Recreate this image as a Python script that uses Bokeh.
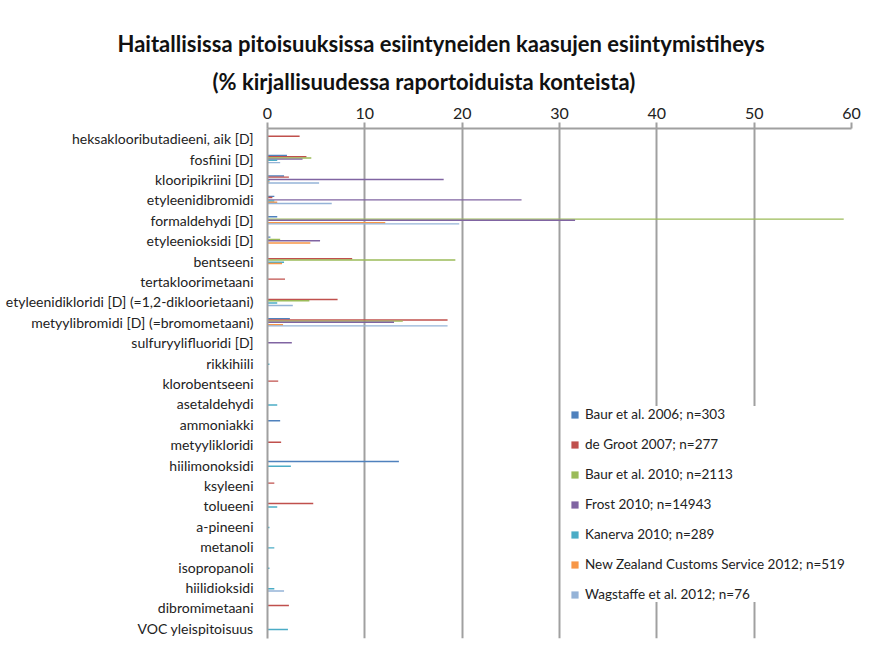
from bokeh.plotting import figure
from bokeh.models import FactorRange, ColumnDataSource, Legend, LegendItem, FixedTicker, Title
from bokeh.transform import dodge
from bokeh.embed import file_html
from bokeh.resources import INLINE

categories = [
    "heksaklooributadieeni, aik [D]", "fosfiini [D]", "klooripikriini [D]",
    "etyleenidibromidi", "formaldehydi [D]", "etyleenioksidi [D]", "bentseeni",
    "tertakloorimetaani", "etyleenidikloridi [D] (=1,2-dikloorietaani)",
    "metyylibromidi [D] (=bromometaani)", "sulfuryylifluoridi [D]", "rikkihiili",
    "klorobentseeni", "asetaldehydi", "ammoniakki", "metyylikloridi",
    "hiilimonoksidi", "ksyleeni", "tolueeni", "a-pineeni", "metanoli",
    "isopropanoli", "hiilidioksidi", "dibromimetaani", "VOC yleispitoisuus",
]

series_names = [
    "Baur et al. 2006; n=303", "de Groot 2007; n=277", "Baur et al. 2010; n=2113",
    "Frost 2010; n=14943", "Kanerva 2010; n=289",
    "New Zealand Customs Service 2012; n=519", "Wagstaffe et al. 2012; n=76",
]

baur_2006 = [0, 2.0, 1.7, 0.7, 1.0, 0.3, 0, 0, 0, 2.3, 0, 0, 0, 0, 1.3, 0, 13.5, 0, 0, 0, 0, 0, 0, 0, 0]
de_groot_2007 = [3.3, 4.0, 2.2, 0.5, 0, 0, 8.7, 1.8, 7.2, 18.5, 0, 0, 1.1, 0, 0, 1.4, 0, 0.7, 4.7, 0, 0, 0, 0, 2.2, 0]
baur_2010 = [0, 4.5, 0, 0, 59.2, 1.3, 19.3, 0, 4.3, 13.9, 0, 0, 0, 0, 0, 0, 0, 0, 0, 0, 0, 0, 0, 0, 0]
frost_2010 = [0, 3.6, 18.1, 26.1, 31.6, 5.4, 0, 0, 0, 13.0, 2.5, 0, 0, 0, 0, 0, 0, 0, 0, 0, 0, 0, 0, 0, 0]
kanerva_2010 = [0, 1.0, 0.2, 0.7, 0, 0, 1.7, 0, 1.0, 0, 0, 0.2, 0, 1.0, 0, 0, 2.4, 0, 1.0, 0.2, 0.7, 0.2, 0.7, 0, 2.1]
nz_customs_2012 = [0, 0, 0.2, 1.0, 12.1, 4.4, 1.5, 0, 0, 1.6, 0, 0, 0, 0, 0, 0, 0, 0, 0, 0, 0, 0, 0, 0, 0]
wagstaffe_2012 = [0, 1.3, 5.3, 6.6, 19.7, 0, 0, 0, 2.6, 18.5, 0, 0, 0, 0, 0, 0, 0, 0, 0, 0, 0, 0, 1.7, 0, 0]

x_ticks = [0, 10, 20, 30, 40, 50, 60]

title_line1 = "Haitallisissa pitoisuuksissa esiintyneiden kaasujen esiintymistiheys"
title_line2 = "(% kirjallisuudessa raportoiduista konteista)"

colors = ["#4F81BD", "#C0504D", "#9BBB59", "#8064A2", "#4BACC6", "#F79646", "#95B3D7"]

src = ColumnDataSource(dict(cat=categories, s0=baur_2006, s1=de_groot_2007, s2=baur_2010,
                            s3=frost_2010, s4=kanerva_2010, s5=nz_customs_2012, s6=wagstaffe_2012))

p = figure(width=861, height=639, output_backend="svg", toolbar_location=None,
           y_range=FactorRange(factors=categories[::-1], range_padding=0),
           x_range=(0, 60), x_axis_location="above",
           min_border_left=267, min_border_right=10, min_border_bottom=1,
           min_border_top=128)

# left edges of the two title lines in the reference: x~117 and x~213 (frame left at 267)
for txt, so, off in ((title_line2, 19, -55), (title_line1, 0, -150)):
    t = Title(text=txt, align="left", offset=off, text_font="Lato", text_font_size="22px",
              text_font_style="bold", text_color="#111111", standoff=so)
    p.add_layout(t, "above")

step = 0.058
renderers = []
for i, col in enumerate(colors):
    r = p.hbar(y=dodge("cat", (3 - i) * step, range=p.y_range), right="s%d" % i, left=0,
               height=0.07, source=src, fill_color=col, line_color=None)
    renderers.append(r)

p.xaxis.ticker = FixedTicker(ticks=x_ticks)
p.xaxis.major_label_text_font = "Lato"
p.xaxis.major_label_text_font_size = "16px"
p.xaxis.major_label_text_color = "#222222"
p.xaxis.major_label_standoff = 4
p.xaxis.axis_line_color = "#a0a0a0"
p.xaxis.axis_line_width = 2
p.xaxis.major_tick_line_color = "#a0a0a0"
p.xaxis.major_tick_line_width = 2
p.xaxis.major_tick_out = 6
p.xaxis.major_tick_in = 0
p.xaxis.minor_tick_line_color = None

p.yaxis.major_label_text_font = "Lato"
p.yaxis.major_label_text_font_size = "14px"
p.yaxis.major_label_text_color = "#222222"
p.yaxis.axis_line_color = "#a0a0a0"
p.yaxis.axis_line_width = 2
p.yaxis.major_tick_line_color = None
p.yaxis.major_label_standoff = 8

p.xgrid.grid_line_color = "#a0a0a0"
p.xgrid.grid_line_width = 2
p.ygrid.grid_line_color = None
p.outline_line_color = None

legend = Legend(items=[LegendItem(label=n, renderers=[r]) for n, r in zip(series_names, renderers)],
                location=(303, 36))
legend.label_text_font = "Lato"
legend.label_text_font_size = "13.5px"
legend.label_text_color = "#222222"
legend.glyph_width = 9
legend.glyph_height = 9
legend.label_height = 16
legend.spacing = 14
legend.label_standoff = 6
legend.padding = 8
legend.border_line_color = None
legend.background_fill_color = "white"
legend.background_fill_alpha = 1
p.add_layout(legend)

open("out.html", "w").write(file_html(p, INLINE))
